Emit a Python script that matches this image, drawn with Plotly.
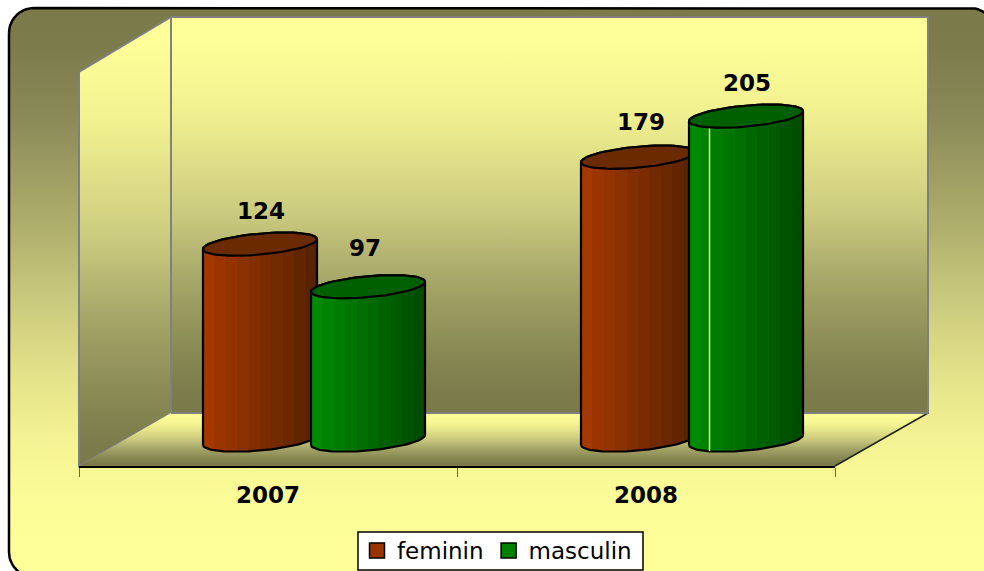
import numpy as np
import plotly.graph_objects as go

categories = ["2007", "2008"]
feminin = [124, 179]
masculin = [97, 205]

W, H = 984, 571
PX_PER_UNIT = 1.58          # vertical pixels per value unit
ZERO_PX = 440               # pixel row of value 0 at the bars' depth
LEFT, RIGHT, TOP, BOTTOM = 79, 835, 17, 466
PX_PER_CAT = (RIGHT - LEFT) / len(categories)

SHIFT = 46 / PX_PER_CAT     # depth shift of the bars
HALF_GAP = 54 / PX_PER_CAT
A = 57 / PX_PER_CAT         # ellipse semi-width
TILT = 5 / PX_PER_UNIT
B = 10.5 / PX_PER_UNIT

WALL_STOPS = [[0, "#FFFF99"], [0.05, "#FFFF99"], [0.235, "#F1F190"], [0.487, "#CCCC80"],
              [0.657, "#A8A86A"], [0.823, "#8C8C56"], [0.95, "#7B7B4C"], [1, "#7A7A4B"]]
AREA_Y = [8, 45, 117, 224, 296, 367, 439, 510, 540]
AREA_C = ["#7A7A4B", "#7B7B4C", "#8A8A58", "#AEAE6C", "#C8C87D", "#E0E088", "#F3F393", "#FDFD98", "#FFFF99"]
AREA_STOPS = [[(y - AREA_Y[0]) / (AREA_Y[-1] - AREA_Y[0]), c] for y, c in zip(AREA_Y, AREA_C)]

fig = go.Figure()


def wall(xs, ys, y0, y1, line=None, stops=None):
    fig.add_trace(go.Scatter(
        x=xs, y=ys, mode="lines", fill="toself", showlegend=False, hoverinfo="skip",
        line=line or dict(width=0, color="rgba(0,0,0,0)"),
        fillgradient=dict(type="vertical", start=y0, stop=y1, colorscale=stops or WALL_STOPS),
    ))


def banded(left, right, n=10):
    a = np.array([int(left[i:i + 2], 16) for i in (1, 3, 5)], float)
    b = np.array([int(right[i:i + 2], 16) for i in (1, 3, 5)], float)
    out = []
    for k in range(n):
        c = a + (b - a) * k / (n - 1)
        col = "rgb(%d,%d,%d)" % tuple(c)
        out += [[k / n, col], [(k + 1) / n, col]]
    return out


# rounded chart area
L, T, R, Bt, r = 9, 8, 995, 577, 25
arc = np.linspace(0, np.pi / 2, 16)
ox = np.concatenate([
    L + r - r * np.cos(arc), R - r + r * np.sin(arc),
    R - r + r * np.cos(arc), L + r - r * np.sin(arc), [L + r - r]])
oy = np.concatenate([
    T + r - r * np.sin(arc), T + r - r * np.cos(arc),
    Bt - r + r * np.sin(arc), Bt - r + r * np.cos(arc), [T + r]])
wall(ox, oy, AREA_Y[0], AREA_Y[-1], dict(color="black", width=2.5), AREA_STOPS)

GREY = dict(color="#808080", width=2)
wall([171, 928, 928, 171, 171], [17, 17, 413, 413, 17], 17, 413, GREY)
wall([79, 171, 171, 79, 79], [72, 17, 413, 466, 72], 17, 466, GREY)
wall([171, 928, 835, 79, 171], [413, 413, 466, 466, 413], 413, 466)
fig.add_trace(go.Scatter(x=[835, 928], y=[466, 413], mode="lines", showlegend=False,
                         hoverinfo="skip", line=dict(color="#222", width=1.5)))
fig.add_trace(go.Scatter(x=[171, 928], y=[413, 413], mode="lines", showlegend=False,
                         hoverinfo="skip", line=GREY))


def cylinder(cx, v, side, cap, streak=False):
    t_low = np.linspace(np.pi, 2 * np.pi, 40)
    t_up = np.linspace(0, np.pi, 40)
    x = np.concatenate([cx + A * np.cos(t_low), cx + A * np.cos(t_up)])
    y = np.concatenate([TILT * np.cos(t_low) + B * np.sin(t_low),
                        v + TILT * np.cos(t_up) + B * np.sin(t_up)])
    x = np.append(x, x[0])
    y = np.append(y, y[0])
    fig.add_trace(go.Scatter(
        x=x, y=y, xaxis="x2", yaxis="y2", mode="lines", fill="toself",
        showlegend=False, hoverinfo="skip", line=dict(color="black", width=2.2),
        fillgradient=dict(type="horizontal", colorscale=banded(*side)),
    ))
    if streak:
        sx = cx - 36.5 / PX_PER_CAT
        fig.add_trace(go.Scatter(
            x=[sx, sx], y=[-7, v - 6], xaxis="x2", yaxis="y2", mode="lines",
            showlegend=False, hoverinfo="skip", line=dict(color="#D8E890", width=1.5),
        ))
    t = np.linspace(0, 2 * np.pi, 80)
    fig.add_trace(go.Scatter(
        x=cx + A * np.cos(t), y=v + TILT * np.cos(t) + B * np.sin(t),
        xaxis="x2", yaxis="y2", mode="lines", fill="toself", fillcolor=cap,
        showlegend=False, hoverinfo="skip", line=dict(color="black", width=2.2),
    ))


LABEL_UP = 34 / PX_PER_UNIT
FEM_NUDGE = [(1, 3), (3, 1)]    # label nudges in px: right, up-is-negative-down
MAS_NUDGE = [(-3, -2), (1, 3)]
label_x, label_y, label_t = [], [], []
for i in range(len(categories)):
    fx = i + 0.5 + SHIFT - HALF_GAP
    mx = i + 0.5 + SHIFT + HALF_GAP
    cylinder(fx, feminin[i], ("#A33800", "#5A2300"), "#6B2A00")
    cylinder(mx, masculin[i], ("#008A00", "#004D00"), "#006000", streak=i == 1)
    label_x += [fx + FEM_NUDGE[i][0] / PX_PER_CAT, mx + MAS_NUDGE[i][0] / PX_PER_CAT]
    label_y += [feminin[i] + LABEL_UP - FEM_NUDGE[i][1] / PX_PER_UNIT,
                masculin[i] + LABEL_UP - MAS_NUDGE[i][1] / PX_PER_UNIT]
    label_t += [str(feminin[i]), str(masculin[i])]

fig.add_trace(go.Scatter(
    x=label_x, y=label_y, text=label_t, xaxis="x2", yaxis="y2", mode="text",
    textposition="middle center", showlegend=False, hoverinfo="skip",
    textfont=dict(family="DejaVu Sans", size=23, color="black", weight="bold"),
))

for name, color in (("feminin", "#993300"), ("masculin", "#008000")):
    fig.add_trace(go.Scatter(
        x=[None], y=[None], xaxis="x2", yaxis="y2", mode="markers", name=name,
        marker=dict(symbol="square", size=15, color=color, line=dict(color="black", width=1.5)),
    ))

fig.update_layout(
    width=W, height=H, autosize=False,
    margin=dict(l=0, r=0, t=0, b=0, autoexpand=False),
    paper_bgcolor="white", plot_bgcolor="rgba(0,0,0,0)",
    xaxis=dict(domain=[0, 1], range=[0, W], visible=False, fixedrange=True),
    yaxis=dict(domain=[0, 1], range=[H, 0], visible=False, fixedrange=True),
    xaxis2=dict(
        domain=[LEFT / W, RIGHT / W], range=[0, len(categories)], anchor="y2",
        tickmode="array", tickvals=[i + 0.5 for i in range(len(categories))], ticktext=categories,
        ticks="outside", ticklen=8, tickcolor="rgba(0,0,0,0)",
        showline=True, linecolor="black", linewidth=1.5, showgrid=False, zeroline=False,
        tickfont=dict(family="DejaVu Sans", size=23, color="black", weight="bold"),
        minor=dict(tickmode="array", tickvals=list(range(len(categories) + 1)),
                   ticks="outside", ticklen=9, tickcolor="#666666", tickwidth=1, showgrid=False),
    ),
    yaxis2=dict(
        domain=[1 - BOTTOM / H, 1 - TOP / H], anchor="x2", visible=False,
        range=[(ZERO_PX - BOTTOM) / PX_PER_UNIT, (ZERO_PX - TOP) / PX_PER_UNIT],
    ),
    legend=dict(
        orientation="h", x=497 / W, xanchor="center", y=1 - 529 / H, yanchor="top",
        bgcolor="rgba(0,0,0,0)", borderwidth=0,
        font=dict(family="DejaVu Sans", size=23, color="black"),
        itemwidth=30, tracegroupgap=0,
    ),
    shapes=[dict(type="rect", xref="x", yref="y", x0=358, x1=643, y0=532, y1=570,
                 fillcolor="white", line=dict(color="black", width=1.5), layer="above")],
)

fig.write_html("out.html", config={"displayModeBar": False},
               post_script="document.body.style.margin='0';document.body.style.overflow='hidden';")
